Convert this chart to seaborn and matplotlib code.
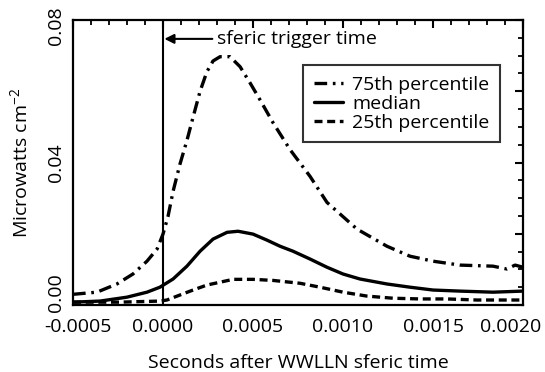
import numpy as np
import pandas as pd
import matplotlib
matplotlib.use("Agg")
import matplotlib.pyplot as plt
import matplotlib.ticker as mticker
import matplotlib.transforms as mtransforms
import seaborn as sns

# ---- data ----
t75 = [-0.0005, -0.000367, -0.000256, -0.000167, -0.000089, -0.000033, 0.0, 0.000028,
       0.000056, 0.000094, 0.000133, 0.000167, 0.000206, 0.000244, 0.000278, 0.000317,
       0.000372, 0.000428, 0.000483, 0.000539, 0.000611, 0.000706, 0.000817, 0.000911,
       0.001078, 0.001244, 0.001372, 0.0015, 0.00165, 0.001833, 0.001911, 0.001956, 0.002]
v75 = [0.0030, 0.0036, 0.0059, 0.0087, 0.0123, 0.0157, 0.0199, 0.0249,
       0.0319, 0.0395, 0.0462, 0.0527, 0.0600, 0.0655, 0.0685, 0.0697,
       0.0697, 0.0669, 0.0624, 0.0576, 0.0512, 0.0436, 0.0361, 0.0288,
       0.0213, 0.0165, 0.0137, 0.0123, 0.0112, 0.0109, 0.0101, 0.0112, 0.0106]

t50 = [-0.0005, -0.00035, -0.0002, -0.000089, -0.000017, 0.000056, 0.000133, 0.000206,
       0.000278, 0.000356, 0.000417, 0.0005, 0.000578, 0.00065, 0.000722, 0.000817,
       0.000911, 0.001, 0.001094, 0.001244, 0.001372, 0.0015, 0.00165, 0.001833, 0.002]
v50 = [0.0008, 0.0011, 0.0022, 0.0036, 0.0050, 0.0073, 0.0109, 0.0151,
       0.0185, 0.0204, 0.0207, 0.0199, 0.0182, 0.0165, 0.0151, 0.0129,
       0.0106, 0.0087, 0.0073, 0.0059, 0.0050, 0.0042, 0.0039, 0.0036, 0.0039]

t25 = [-0.0005, -0.00024, -0.000017, 0.000022, 0.000094, 0.000167, 0.000244, 0.000317,
       0.000389, 0.0005, 0.000611, 0.000761, 0.000872, 0.001, 0.001133, 0.001278,
       0.001428, 0.001578, 0.001744, 0.002]
v25 = [0.0008, 0.0008, 0.0011, 0.0014, 0.0028, 0.0042, 0.0056, 0.0064,
       0.0072, 0.0072, 0.0069, 0.0061, 0.0050, 0.0036, 0.0025, 0.0019,
       0.0017, 0.0017, 0.0014, 0.0014]

series_labels = ["75th percentile", "median", "25th percentile"]
x_ticks = [-0.0005, 0.0, 0.0005, 0.0010, 0.0015, 0.0020]
y_ticks = [0.0, 0.02, 0.04, 0.06, 0.08]
y_labelled = [0.0, 0.04, 0.08]

sns.set_theme(style="white")
plt.rcParams["font.family"] = ["Open Sans", "DejaVu Sans"]
plt.rcParams["mathtext.fontset"] = "custom"
plt.rcParams["mathtext.rm"] = "Open Sans"
plt.rcParams["mathtext.it"] = "Open Sans"

fig = plt.figure(figsize=(5.45, 3.72), dpi=100)
ax = fig.add_axes([73/545, 67/372, 450/545, 285/372])

df75 = pd.DataFrame({"t": t75, "v": v75})
df50 = pd.DataFrame({"t": t50, "v": v50})
df25 = pd.DataFrame({"t": t25, "v": v25})

lw = 2.4
sns.lineplot(data=df75, x="t", y="v", ax=ax, color="black", lw=lw,
             linestyle=(0, (3.8, 1.7, 0.8, 1.7)), label=series_labels[0], sort=False)
sns.lineplot(data=df50, x="t", y="v", ax=ax, color="black", lw=lw,
             linestyle="-", label=series_labels[1], sort=False)
sns.lineplot(data=df25, x="t", y="v", ax=ax, color="black", lw=lw,
             linestyle=(0, (2.4, 1.4)), label=series_labels[2], sort=False)

ax.axvline(0.0, color="black", lw=1.5)

ax.set_xlim(-0.0005, 0.0020)
ax.set_ylim(0.0, 0.08)

ax.xaxis.set_major_locator(mticker.FixedLocator(x_ticks))
ax.xaxis.set_minor_locator(mticker.MultipleLocator(0.0001))
ax.xaxis.set_major_formatter(mticker.FormatStrFormatter("%.4f"))
ax.yaxis.set_major_locator(mticker.FixedLocator(y_ticks))
ax.yaxis.set_minor_locator(mticker.MultipleLocator(0.005))
ax.yaxis.set_major_formatter(mticker.FuncFormatter(
    lambda v, p: ("%.2f" % v) if any(abs(v - u) < 1e-9 for u in y_labelled) else ""))

ax.tick_params(which="both", direction="in", top=True, right=True, color="black")
ax.tick_params(which="major", length=6, width=1.5, labelsize=14, colors="black")
ax.tick_params(which="minor", length=3.5, width=1.3)
ax.tick_params(axis="x", which="major", pad=9)
ax.tick_params(axis="y", which="major", pad=6)
for lab in ax.get_yticklabels():
    lab.set_rotation(90)
    lab.set_va("center")

for sp in ax.spines.values():
    sp.set_color("black")
    sp.set_linewidth(1.6)

ax.set_xlabel("Seconds after WWLLN sferic time", fontsize=14, color="black", labelpad=13)
ax.set_ylabel("Microwatts cm$^{-2}$", fontsize=14, color="black", labelpad=11)

ax.annotate("sferic trigger time", xy=(0.0, 0.0747), xytext=(0.0003, 0.0747),
            xycoords="data", textcoords="data", va="center", ha="left",
            fontsize=14, color="black",
            arrowprops=dict(arrowstyle="-|>", color="black", lw=1.5,
                            shrinkA=1, shrinkB=1, mutation_scale=14))

leg = ax.legend(loc="upper right", bbox_to_anchor=(0.949, 0.842), borderaxespad=0,
                fontsize=14, frameon=True, fancybox=False, handlelength=1.5,
                handletextpad=0.45, labelspacing=0.05, borderpad=0.55)
leg.get_frame().set_edgecolor("black")
leg.get_frame().set_linewidth(1.5)
for t in leg.get_texts():
    t.set_color("black")

fig.canvas.draw()
# nudge edge tick labels inward as in the reference
def shift(lab, dx, dy):
    lab.set_transform(lab.get_transform() +
                      mtransforms.ScaledTranslation(dx/100, dy/100, fig.dpi_scale_trans))
for lab in ax.get_yticklabels():
    if lab.get_text() == "0.08":
        shift(lab, 0, -6)
    elif lab.get_text() == "0.00":
        shift(lab, 0, 12)
for lab in ax.get_xticklabels():
    if lab.get_text() == "-0.0005":
        shift(lab, 5, 0)
    elif lab.get_text() == "0.0020":
        shift(lab, -12, 0)

fig.savefig("out.png", dpi=100)
